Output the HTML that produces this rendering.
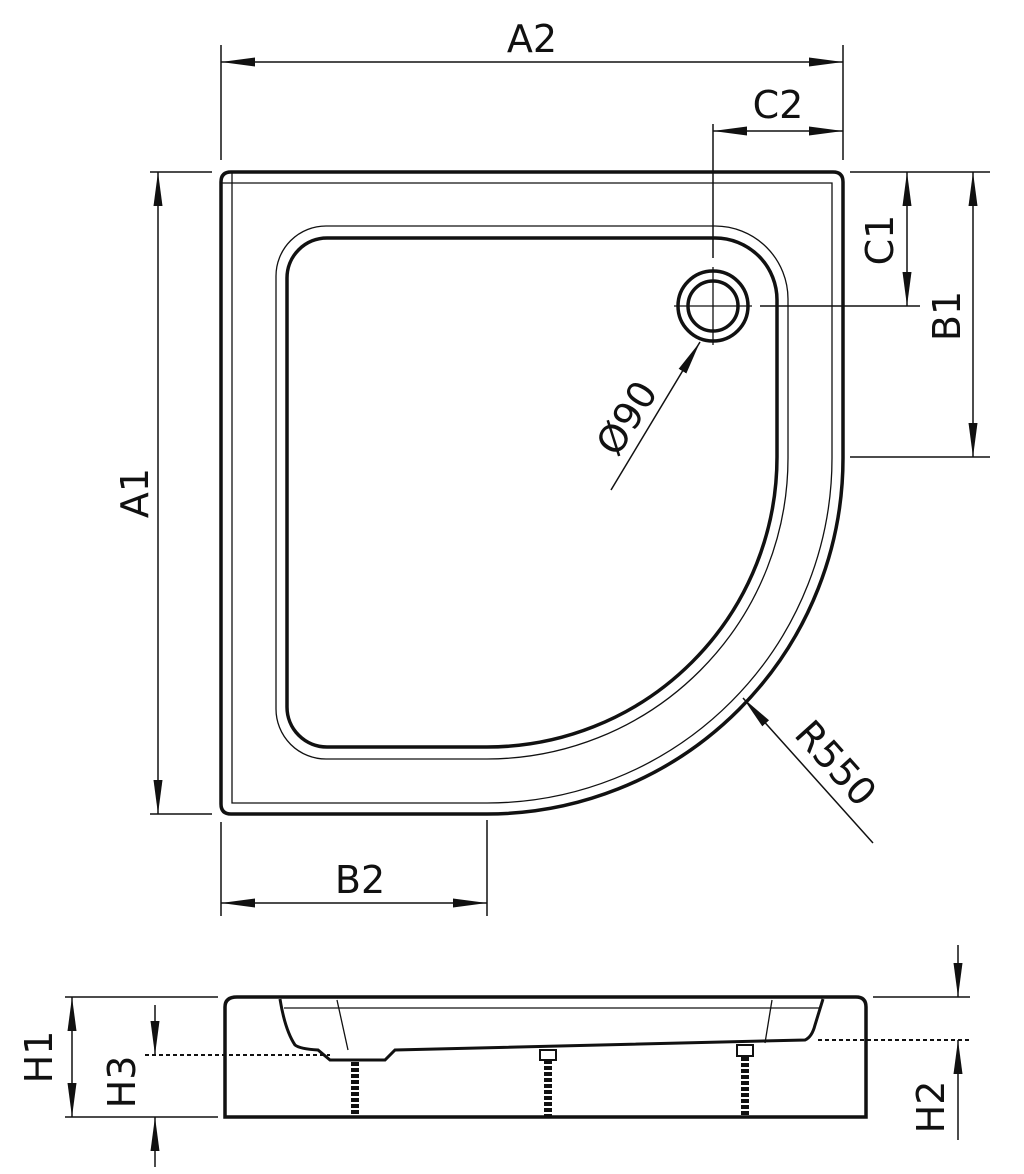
<!DOCTYPE html>
<html><head><meta charset="utf-8"><style>html,body{margin:0;padding:0;background:#fff}svg{display:block}text{font-family:"DejaVu Sans","Liberation Sans",sans-serif;font-size:38px;fill:#111}</style></head>
<body>
<svg width="1024" height="1174" viewBox="0 0 1024 1174" xmlns="http://www.w3.org/2000/svg">
<defs>
<marker id="a" viewBox="0 0 34 10" refX="34" refY="5" markerWidth="34" markerHeight="10" markerUnits="userSpaceOnUse" orient="auto-start-reverse"><path d="M0,0.5 L34,5 L0,9.5 Z" fill="#111"/></marker>
</defs>
<g fill="none" stroke="#111">
<path d="M231,172 H833 Q843,172 843,182 V457 A356,356 0 0 1 487,814 H231 Q221,814 221,804 V182 Q221,172 231,172 Z" stroke-width="3.5"/>
<path d="M221,183 H832 V457 A345,345 0 0 1 487,803 H232 V172" stroke-width="1.3"/>
<path d="M327,238 H715 A62,62 0 0 1 777,300 V457 A290,290 0 0 1 487,747 H327 A40,40 0 0 1 287,707 V278 A40,40 0 0 1 327,238 Z" stroke-width="3.5"/>
<path d="M326,226 H715 A73,73 0 0 1 788,299 V457 A301,301 0 0 1 487,759 H326 A50,50 0 0 1 276,709 V276 A50,50 0 0 1 326,226 Z" stroke-width="1.3"/>
<circle cx="713" cy="306" r="35" stroke-width="3.5"/>
<circle cx="713" cy="306" r="25" stroke-width="3.5"/>
<path d="M674,306 H752 M713,267 V345" stroke-width="1.3"/>
<g stroke-width="1.5">
<path d="M221,45 V160 M843,45 V160"/>
<path d="M221,62 H843" marker-start="url(#a)" marker-end="url(#a)"/>
<path d="M713,124 V258"/>
<path d="M713,131 H843" marker-start="url(#a)" marker-end="url(#a)"/>
<path d="M150,172 H212 M150,814 H212"/>
<path d="M158,172 V814" marker-start="url(#a)" marker-end="url(#a)"/>
<path d="M850,172 H990 M760,306 H920 M850,457 H990"/>
<path d="M907,172 V306" marker-start="url(#a)" marker-end="url(#a)"/>
<path d="M973,172 V457" marker-start="url(#a)" marker-end="url(#a)"/>
<path d="M221,822 V916 M487,820 V916"/>
<path d="M221,903 H487" marker-start="url(#a)" marker-end="url(#a)"/>
<path d="M611,490 L700,342" marker-end="url(#a)"/>
<path d="M873,843 L743,698" marker-end="url(#a)"/>
</g>
<path d="M237,997 H856 Q866,997 866,1007 V1117 H225 V1007 Q225,997 237,997 Z" stroke-width="3.5"/>
<path d="M280,999 Q285,1030 295,1045 Q300,1049 318,1050 L330,1060 H385 L395,1050 L805,1040 Q812,1037 815,1025 L823,999" stroke-width="3"/>
<path d="M284,1008 H820 M337,1000 L348,1050 M772,1000 L765,1043" stroke-width="1.3"/>
<g stroke-width="2">
<path d="M540,1050 H556 V1060 H540 Z M737,1045 H753 V1056 H737 Z"/>
</g>
<g stroke-width="8" stroke-dasharray="4 2">
<path d="M355,1062 V1117 M548,1060 V1117 M745,1057 V1117"/>
</g>
<g stroke-width="1.5">
<path d="M65,997 H218 M65,1117 H218 M873,997 H970"/>
<path d="M72,997 V1117" marker-start="url(#a)" marker-end="url(#a)"/>
<path d="M155,1005 V1055" marker-end="url(#a)"/>
<path d="M155,1167 V1117" marker-end="url(#a)"/>
<path d="M958,945 V997" marker-end="url(#a)"/>
<path d="M958,1140 V1040" marker-end="url(#a)"/>
</g>
<g stroke-width="2" stroke-dasharray="4 3">
<path d="M145,1055 H330 M818,1040 H970"/>
</g>
</g>
<text x="532" y="52" text-anchor="middle">A2</text>
<text x="778" y="118" text-anchor="middle">C2</text>
<text x="360" y="893" text-anchor="middle">B2</text>
<text transform="translate(148,493) rotate(-90)" text-anchor="middle">A1</text>
<text transform="translate(893,240) rotate(-90)" text-anchor="middle">C1</text>
<text transform="translate(960,316) rotate(-90)" text-anchor="middle">B1</text>
<text transform="translate(638,425) rotate(-58)" text-anchor="middle">Ø90</text>
<text transform="translate(826,772) rotate(48)" text-anchor="middle">R550</text>
<text transform="translate(52,1057) rotate(-90)" text-anchor="middle">H1</text>
<text transform="translate(135,1082) rotate(-90)" text-anchor="middle">H3</text>
<text transform="translate(944,1107) rotate(-90)" text-anchor="middle">H2</text>
</svg>
</body></html>
